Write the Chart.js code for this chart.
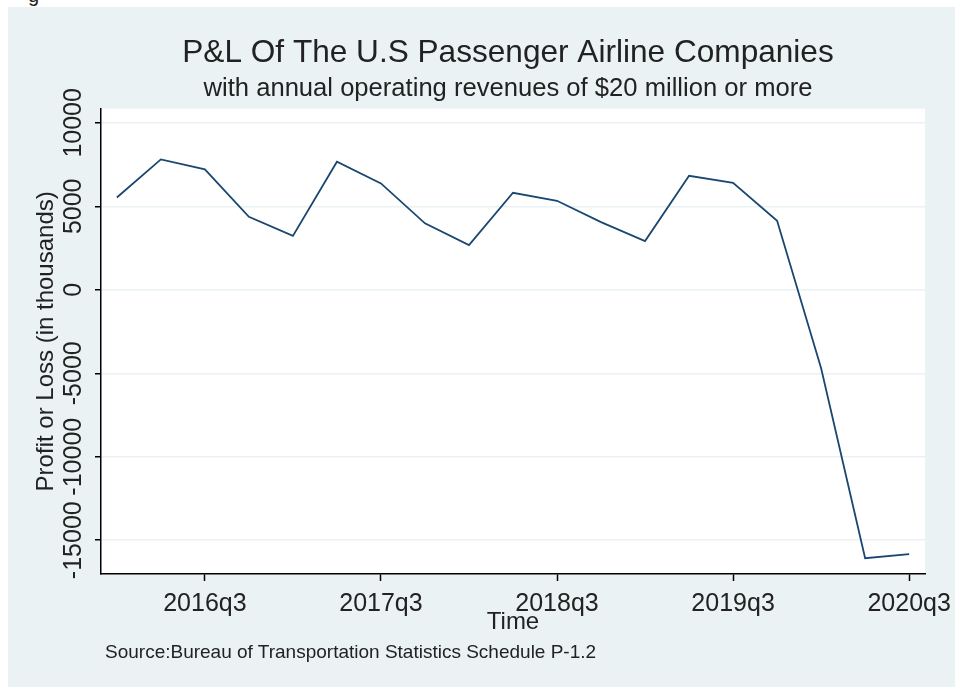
<!DOCTYPE html>
<html>
<head>
<meta charset="utf-8">
<script src="https://cdn.jsdelivr.net/npm/chart.js@4.4.1/dist/chart.umd.min.js"></script>
<style>
  html, body { margin: 0; padding: 0; background: #ffffff; }
  #wrap { position: relative; width: 955px; height: 687px; overflow: hidden; }
  #bg { position: absolute; left: 8px; top: 7px; right: 0; bottom: 0; background: #eaf2f3; }
  #chart { position: absolute; left: 0; top: 0; }
  #frag { position: absolute; left: 28px; top: -16px; font: 20px "Liberation Sans", Arial, sans-serif; color: #222; }
  #source { position: absolute; left: 105px; top: 641px; font: 19px "Liberation Sans", Arial, sans-serif; color: #222; white-space: nowrap; }
</style>
</head>
<body>
<div id="wrap">
  <div id="bg"></div>
  <div id="frag">g</div>
  <canvas id="chart" width="955" height="687"></canvas>
  <div id="source">Source:Bureau of Transportation Statistics Schedule P-1.2</div>
</div>
<script>
// quarterly data, 2016q1 .. 2020q3
const quarters = ["2016q1", "2016q2", "2016q3", "2016q4",
  "2017q1", "2017q2", "2017q3", "2017q4",
  "2018q1", "2018q2", "2018q3", "2018q4",
  "2019q1", "2019q2", "2019q3", "2019q4",
  "2020q1", "2020q2", "2020q3"];
const profit = [5530, 7810, 7210, 4370,
  3230, 7670, 6370, 3980,
  2680, 5810, 5330, 4050,
  2920, 6830, 6410, 4130,
  -4700, -16080, -15830];
const xTickLabels = ["2016q3", "2017q3", "2018q3", "2019q3", "2020q3"];
const yTicks = [-15000, -10000, -5000, 0, 5000, 10000];

const xTickIdx = xTickLabels.map(q => quarters.indexOf(q));
const fontFam = '"Liberation Sans", Arial, sans-serif';

// white plot region
const plotBg = {
  id: "plotBg",
  beforeDraw(chart) {
    const a = chart.chartArea;
    const c = chart.ctx;
    c.save();
    c.fillStyle = "#ffffff";
    c.fillRect(a.left, a.top, a.right - a.left, a.bottom - a.top);
    c.restore();
  }
};

let ctx = document.getElementById("chart").getContext("2d");
let lineChart = new Chart(ctx, {
  type: "line",
  data: {
    datasets: [{
      data: profit.map((v, i) => ({ x: i, y: v })),
      borderColor: "#1a476f",
      borderWidth: 1.8,
      pointRadius: 0,
      tension: 0,
      fill: false
    }]
  },
  options: {
    responsive: false,
    animation: false,
    // left padding shifts the centred titles to the right like the original
    layout: { padding: { left: 61, right: 0, top: 0, bottom: 0 } },
    plugins: {
      legend: { display: false },
      tooltip: { enabled: false },
      title: {
        display: true,
        text: "P&L Of The U.S Passenger Airline Companies",
        color: "#222",
        font: { family: fontFam, size: 31.6, weight: "normal" },
        padding: { top: 34, bottom: 0 }
      },
      subtitle: {
        display: true,
        text: "with annual operating revenues of $20 million or more",
        color: "#222",
        font: { family: fontFam, size: 25.6, weight: "normal" },
        padding: { top: 2, bottom: 4 }
      }
    },
    scales: {
      x: {
        type: "linear",
        min: -0.36,
        max: 18.36,
        afterBuildTicks: s => { s.ticks = xTickIdx.map(v => ({ value: v })); },
        afterFit: s => { s.height = 113; s.paddingLeft = 0; s.paddingRight = 30; },
        ticks: {
          color: "#222",
          font: { family: fontFam, size: 25 },
          padding: 8,
          maxRotation: 0,
          autoSkip: false,
          callback: v => quarters[v]
        },
        grid: { drawOnChartArea: false, drawTicks: true, tickLength: 7, tickColor: "#000", tickWidth: 1.5 },
        border: { display: true, color: "#000", width: 1.5 },
        title: {
          display: true,
          text: "Time",
          color: "#222",
          font: { family: fontFam, size: 24 },
          padding: { top: 0, bottom: 50 }
        }
      },
      y: {
        min: -17024,
        max: 10850,
        afterBuildTicks: s => { s.ticks = yTicks.map(v => ({ value: v })); },
        afterFit: s => { s.width = 40; },
        ticks: {
          color: "#222",
          font: { family: fontFam, size: 25 },
          minRotation: 90,
          maxRotation: 90,
          crossAlign: "center",
          padding: -18,
          callback: v => String(v)
        },
        grid: { color: "#eaf2f3", lineWidth: 1.5, tickLength: 6, tickColor: "#000", tickWidth: 1.5 },
        border: { display: true, color: "#000", width: 1.5 },
        title: {
          display: true,
          text: "Profit or Loss (in thousands)",
          color: "#222",
          font: { family: fontFam, size: 24 },
          padding: { top: -29, bottom: 0 }
        }
      }
    }
  },
  plugins: [plotBg]
});
</script>
</body>
</html>
